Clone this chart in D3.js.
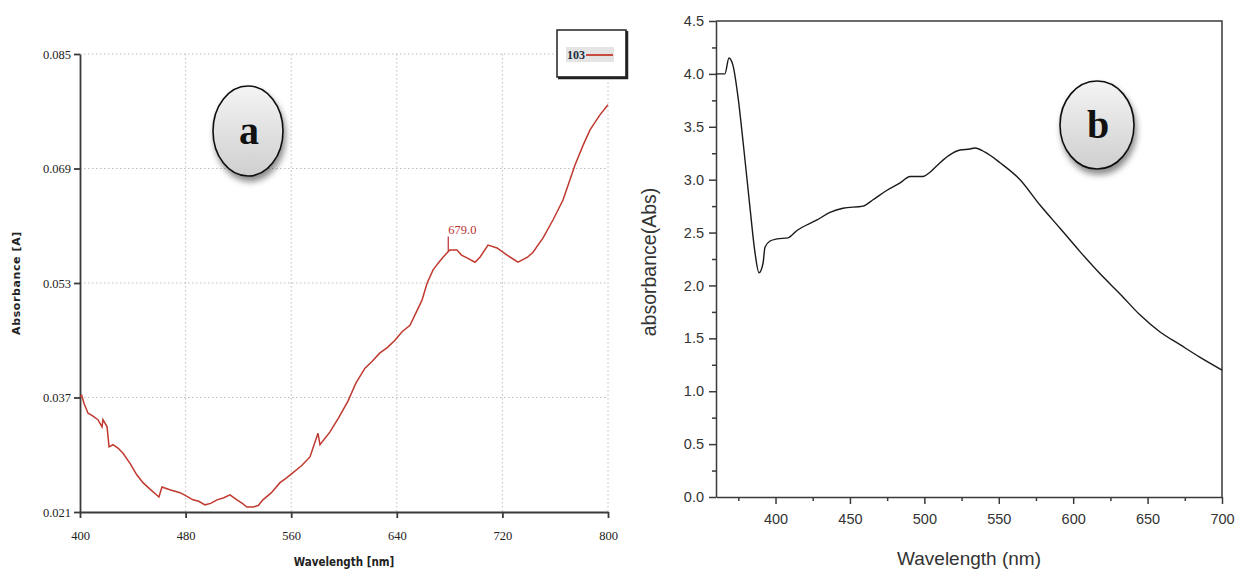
<!DOCTYPE html>
<html>
<head>
<meta charset="utf-8">
<script src="https://cdn.jsdelivr.net/npm/d3@7"></script>
<style>
  body { margin: 0; background: #fff; }
  svg { display: block; }
</style>
</head>
<body>
<svg id="chart" width="1237" height="571"></svg>
<script>
// panel a: absorbance spectrum (red)
const aWavelength = [400, 401.3, 403, 406.1, 409, 413.6, 416.7, 417.4, 420.5, 422, 425, 429, 432.6, 437.9, 443, 447.7, 453, 459.8, 462.1,
  468, 475.8, 480, 485.6, 490, 494.7, 499, 503.8, 509, 513.6, 518.9, 523, 526.5, 531.1, 535, 538.6, 545, 551.5, 556, 561.4, 568, 574.2, 580.3, 581.8, 589.4,
  596, 603, 609, 615.9, 621, 627, 633, 638.6, 644, 650, 659.1, 663, 667.4, 671, 675, 679, 680.3, 685.6, 689, 693.2, 699.2, 703, 709.1, 715.9, 723.5,
  731.8, 734.8, 739, 743.2, 750.8, 758.3, 765.9, 770, 775, 781, 786.4, 790, 793.9, 800];
const aAbsorbance = [0.0371, 0.0373, 0.0362, 0.0348, 0.0345, 0.0339, 0.0329, 0.0339, 0.0329, 0.0301, 0.0304, 0.0299, 0.0292, 0.0278, 0.0262, 0.0251, 0.0242, 0.0231, 0.0245,
  0.0241, 0.0237, 0.0233, 0.0227, 0.0225, 0.0220, 0.0222, 0.0227, 0.0230, 0.0234, 0.0227, 0.0222, 0.0217, 0.0217, 0.0219, 0.0227, 0.0237, 0.0251, 0.0257, 0.0265, 0.0275, 0.0287, 0.0320, 0.0304, 0.0322,
  0.0342, 0.0365, 0.0390, 0.0411, 0.0420, 0.0432, 0.0440, 0.0450, 0.0462, 0.0471, 0.0506, 0.0530, 0.0548, 0.0557, 0.0566, 0.0574, 0.0576, 0.0576, 0.0569, 0.0565, 0.0559, 0.0566, 0.0583, 0.0579, 0.0569,
  0.0559, 0.0562, 0.0566, 0.0573, 0.0593, 0.0618, 0.0646, 0.0668, 0.0695, 0.0722, 0.0744, 0.0754, 0.0765, 0.0779];
const aXTicks = [400, 480, 560, 640, 720, 800];
const aYTicks = [0.021, 0.037, 0.053, 0.069, 0.085];
const aPeak = 679.0;
const aLegend = '103';

// panel b: absorbance spectrum (black)
const bWavelength = [360, 366, 368.7, 371.4, 374.8, 378.1, 382.8, 386.2, 388.9, 391.6, 392.9, 396.3, 401, 408.4,
  414.4, 427.9, 436.6, 445.3, 458.8, 465.5, 474.9, 483.7, 490.4, 499.1, 503.8, 510.5, 516.6, 524, 530.7,
  534, 540.8, 550.9, 564.3, 577.7, 591.2, 604.6, 618.1, 631.5, 645, 658.4, 671.8, 685.3, 700];
const bAbsorbance = [4.0, 4.0, 4.15, 4.08, 3.78, 3.37, 2.74, 2.31, 2.12, 2.21, 2.36, 2.42, 2.44, 2.45,
  2.52, 2.62, 2.69, 2.73, 2.75, 2.81, 2.90, 2.97, 3.03, 3.03, 3.07, 3.16, 3.23, 3.28, 3.29,
  3.30, 3.26, 3.16, 3.0, 2.76, 2.54, 2.32, 2.11, 1.92, 1.72, 1.56, 1.44, 1.32, 1.20];
const bXTicks = [400, 450, 500, 550, 600, 650, 700];
const bYTicks = [0, 0.5, 1, 1.5, 2, 2.5, 3, 3.5, 4, 4.5];

const svg = d3.select('#chart');
const defs = svg.append('defs');

// shading for the round labels
const grad = defs.append('linearGradient')
  .attr('id', 'badgeFill')
  .attr('x1', '0%').attr('y1', '0%').attr('x2', '0%').attr('y2', '100%');
grad.append('stop').attr('offset', '0%').attr('stop-color', '#f4f4f4');
grad.append('stop').attr('offset', '100%').attr('stop-color', '#cfcfcf');

const shadow = defs.append('filter').attr('id', 'badgeShadow')
  .attr('x', '-30%').attr('y', '-30%').attr('width', '160%').attr('height', '160%');
shadow.append('feDropShadow')
  .attr('dx', 2).attr('dy', 5).attr('stdDeviation', 3)
  .attr('flood-color', '#000').attr('flood-opacity', 0.45);

function badge(cx, cy, rx, ry, letter) {
  svg.append('ellipse')
    .attr('cx', cx).attr('cy', cy).attr('rx', rx).attr('ry', ry)
    .attr('fill', 'url(#badgeFill)')
    .attr('stroke', '#111').attr('stroke-width', 1.6)
    .attr('filter', 'url(#badgeShadow)');
  svg.append('text')
    .attr('x', cx + 1).attr('y', cy + 13)
    .attr('text-anchor', 'middle')
    .style('font-family', '"Liberation Serif", serif')
    .style('font-weight', 'bold')
    .style('font-size', '40px')
    .style('fill', '#111')
    .text(letter);
}

// ---------- panel a ----------
const ax = d3.scaleLinear().domain([400, 800]).range([80, 608]);
const ay = d3.scaleLinear().domain([0.021, 0.085]).range([512, 54]);
const aSerif = '"Liberation Serif", "Times New Roman", serif';

// dotted grid
svg.append('g')
  .selectAll('line')
  .data(aYTicks.slice(1))
  .join('line')
  .attr('x1', ax(400)).attr('x2', ax(800))
  .attr('y1', d => ay(d)).attr('y2', d => ay(d))
  .attr('stroke', '#bdbdbd').attr('stroke-width', 1).attr('stroke-dasharray', '1.5,2.5');
svg.append('g')
  .selectAll('line')
  .data(aXTicks.slice(1))
  .join('line')
  .attr('x1', d => ax(d)).attr('x2', d => ax(d))
  .attr('y1', ay(0.085)).attr('y2', ay(0.021))
  .attr('stroke', '#bdbdbd').attr('stroke-width', 1).attr('stroke-dasharray', '1.5,2.5');

const aXAxis = svg.append('g')
  .attr('transform', `translate(0,${ay(0.021)})`)
  .call(d3.axisBottom(ax).tickValues(aXTicks).tickSize(6).tickSizeOuter(0).tickPadding(13));
const aYAxis = svg.append('g')
  .attr('transform', `translate(${ax(400)},0)`)
  .call(d3.axisLeft(ay).tickValues(aYTicks).tickFormat(d3.format('.3f')).tickSize(6).tickSizeOuter(0).tickPadding(3));
[aXAxis, aYAxis].forEach(g => {
  g.selectAll('path, line').attr('stroke', '#3a3a3a').attr('stroke-width', 1.8);
  g.selectAll('text')
    .style('font-family', aSerif)
    .style('font-size', '12.5px')
    .style('fill', '#222');
});

svg.append('text')
  .attr('transform', `translate(20,283) rotate(-90)`)
  .attr('text-anchor', 'middle')
  .style('font-family', '"DejaVu Sans", sans-serif')
  .style('font-weight', 'bold')
  .style('font-size', '11px')
  .style('letter-spacing', '0.6px')
  .style('fill', '#222')
  .text('Absorbance [A]');
svg.append('text')
  .attr('x', 344).attr('y', 566)
  .attr('text-anchor', 'middle')
  .style('font-family', '"DejaVu Sans Condensed", "DejaVu Sans", sans-serif')
  .style('font-weight', 'bold')
  .style('font-size', '11.5px')
  .style('fill', '#222')
  .text('Wavelength [nm]');

const aLine = d3.line()
  .x((d, i) => ax(aWavelength[i]))
  .y(d => ay(d));
svg.append('path')
  .datum(aAbsorbance)
  .attr('d', aLine)
  .attr('fill', 'none')
  .attr('stroke', '#c0392f')
  .attr('stroke-width', 1.5);

// peak marker
const peakIdx = aWavelength.indexOf(aPeak);
const peakY = ay(aAbsorbance[peakIdx]);
svg.append('line')
  .attr('x1', ax(aPeak)).attr('x2', ax(aPeak))
  .attr('y1', peakY).attr('y2', peakY - 15)
  .attr('stroke', '#bf3a3a').attr('stroke-width', 1.3);
svg.append('text')
  .attr('x', ax(aPeak)).attr('y', peakY - 18)
  .style('font-family', aSerif)
  .style('font-size', '12.5px')
  .style('fill', '#b83030')
  .text(aPeak.toFixed(1));

// legend
svg.append('rect')
  .attr('x', 557).attr('y', 30).attr('width', 69).attr('height', 47)
  .attr('fill', '#fff').attr('stroke', '#222').attr('stroke-width', 1.5);
svg.append('path')
  .attr('d', 'M558,78 H627 V31')
  .attr('fill', 'none').attr('stroke', '#222').attr('stroke-width', 2.5);
svg.append('rect')
  .attr('x', 566).attr('y', 47).attr('width', 48).attr('height', 15)
  .attr('fill', '#e4e4e4');
svg.append('text')
  .attr('x', 567).attr('y', 59)
  .style('font-family', aSerif)
  .style('font-weight', 'bold')
  .style('font-size', '12px')
  .style('fill', '#1c2a40')
  .text(aLegend);
svg.append('line')
  .attr('x1', 586).attr('x2', 613).attr('y1', 55).attr('y2', 55)
  .attr('stroke', '#c0392b').attr('stroke-width', 1.8);

badge(248, 131, 35, 45, 'a');

// ---------- panel b ----------
const bx = d3.scaleLinear().domain([360, 700]).range([716, 1222]);
const by = d3.scaleLinear().domain([0, 4.5]).range([497, 21]);
const bFont = '"Liberation Sans", Arial, sans-serif';

// minor ticks
svg.append('g')
  .attr('transform', `translate(0,${by(0)})`)
  .call(d3.axisBottom(bx).tickValues(d3.range(375, 700, 50)).tickSize(4).tickFormat(''))
  .call(g => g.select('.domain').remove())
  .selectAll('line').attr('stroke', '#3a3a3a').attr('stroke-width', 1.5);
svg.append('g')
  .attr('transform', `translate(${bx(360)},0)`)
  .call(d3.axisLeft(by).tickValues(d3.range(0.25, 4.5, 0.5)).tickSize(4).tickFormat(''))
  .call(g => g.select('.domain').remove())
  .selectAll('line').attr('stroke', '#3a3a3a').attr('stroke-width', 1.5);

const bXAxis = svg.append('g')
  .attr('transform', `translate(0,${by(0)})`)
  .call(d3.axisBottom(bx).tickValues(bXTicks).tickSize(7).tickSizeOuter(0).tickPadding(10));
const bYAxis = svg.append('g')
  .attr('transform', `translate(${bx(360)},0)`)
  .call(d3.axisLeft(by).tickValues(bYTicks).tickFormat(d3.format('.1f')).tickSize(7).tickSizeOuter(0).tickPadding(5));
[bXAxis, bYAxis].forEach(g => {
  g.selectAll('path, line').attr('stroke', '#3a3a3a').attr('stroke-width', 1.5);
  g.selectAll('text')
    .style('font-family', bFont)
    .style('font-size', '14.5px')
    .style('fill', '#333');
});

// frame top and right
svg.append('path')
  .attr('d', `M${bx(360)},${by(4.5)} H${bx(700)} V${by(0)}`)
  .attr('fill', 'none').attr('stroke', '#3a3a3a').attr('stroke-width', 1.5);

svg.append('text')
  .attr('transform', `translate(656,262) rotate(-90)`)
  .attr('text-anchor', 'middle')
  .style('font-family', bFont)
  .style('font-size', '19.5px')
  .style('fill', '#333')
  .text('absorbance(Abs)');
svg.append('text')
  .attr('x', 969).attr('y', 565)
  .attr('text-anchor', 'middle')
  .style('font-family', bFont)
  .style('font-size', '19px')
  .style('fill', '#333')
  .text('Wavelength (nm)');

const bLine = d3.line()
  .x((d, i) => bx(bWavelength[i]))
  .y(d => by(d))
  .curve(d3.curveMonotoneX);
svg.append('path')
  .datum(bAbsorbance)
  .attr('d', bLine)
  .attr('fill', 'none')
  .attr('stroke', '#1a1a1a')
  .attr('stroke-width', 1.4);

badge(1097, 125, 37, 44, 'b');
</script>
</body>
</html>
